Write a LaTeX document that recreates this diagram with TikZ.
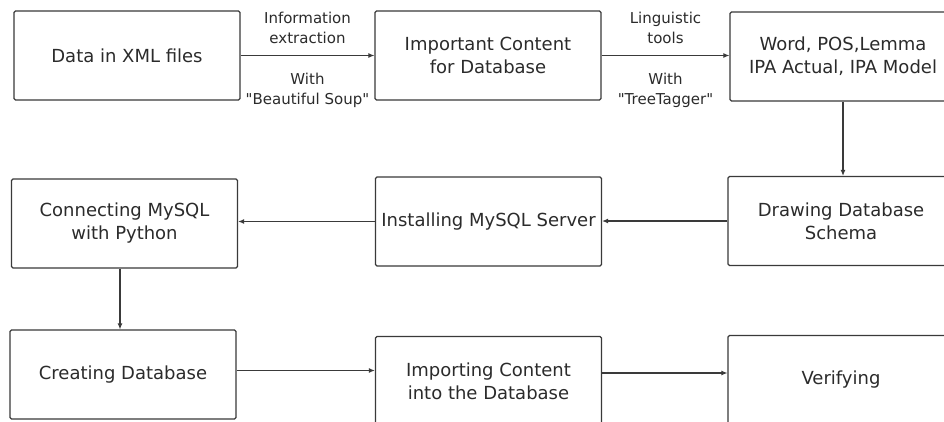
\documentclass[tikz,border=0pt]{standalone}
\usepackage{fontspec}
\setmainfont{DejaVu Sans}[Ligatures=TeXOff]
\usetikzlibrary{arrows.meta}
\definecolor{linec}{HTML}{3A3A3A}
\definecolor{txt}{HTML}{2B2B2B}
\tikzset{
  box/.style={draw=linec, line width=1.2pt, rounded corners=1.5pt, minimum width=226pt, minimum height=89pt, inner sep=0pt, align=center, font=\fontsize{18}{23}\selectfont, text=txt},
  lab/.style={align=center, font=\fontsize{15}{20}\selectfont, text=txt, inner sep=0pt},
  arr/.style={draw=linec, line width=1.1pt, -{Latex[length=6pt,width=5pt]}}
}
\begin{document}
\begin{tikzpicture}[x=1pt,y=-1pt]
\clip (0,0) rectangle (944,421);
\fill[white] (0,0) rectangle (944,421);
% row 1
\node[box] (b1) at (127,55.5) {Data in XML files};
\node[box] (b2) at (488,55.5) {Important Content\\for Database};
\node[box] (b3) at (843,56.5) {Word, POS,Lemma\\IPA Actual, IPA Model};
% row 2
\node[box] (b4) at (841,221) {Drawing Database\\Schema};
\node[box] (b5) at (488.5,221.5) {Installing MySQL Server};
\node[box] (b6) at (124.5,223.5) {Connecting MySQL\\with Python};
% row 3
\node[box] (b7) at (123,374.5) {Creating Database};
\node[box] (b8) at (488.5,381) {Importing Content\\into the Database};
\node[box] (b9) at (841,380) {Verifying};
% labels
\node[lab] (l1a) at (307.5,28) {Information\\extraction};
\node[lab] (l1b) at (307.5,90) {With\\"Beautiful Soup"};
\node[lab] (l2a) at (665.5,28) {Linguistic\\tools};
\node[lab] (l2b) at (665.5,90) {With\\"TreeTagger"};
% connectors
\draw[arr] (b1.east) -- (b1.east -| b2.west);
\draw[arr] (b2.east) -- (b2.east -| b3.west);
\draw[arr] (b3.south) -- (b3.south |- b4.north);
\draw[arr] (b4.west) -- (b4.west -| b5.east);
\draw[arr] (b5.west) -- (b5.west -| b6.east);
\draw[arr] ([xshift=-4.5pt]b6.south) -- ([xshift=-4.5pt]b6.south |- b7.north);
\draw[arr] ([yshift=4pt]b7.east) -- ([yshift=4pt]b7.east -| b8.west);
\draw[arr] ([yshift=8pt]b8.east) -- ([yshift=8pt]b8.east -| b9.west);
\end{tikzpicture}
\end{document}
